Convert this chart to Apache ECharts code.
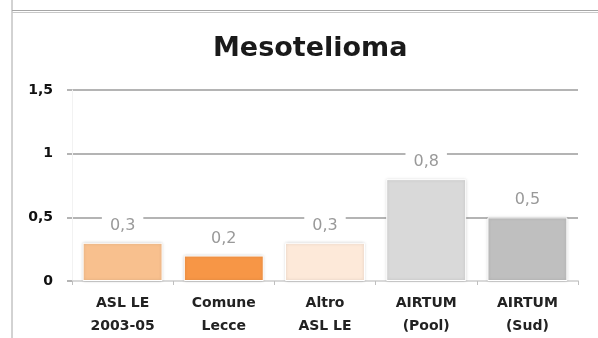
<!DOCTYPE html>
<html>
<head>
<meta charset="utf-8">
<script src="https://cdn.jsdelivr.net/npm/echarts@6/dist/echarts.min.js"></script>
<style>
  html, body { margin: 0; padding: 0; background: #fff; }
  #chart { width: 598px; height: 338px; }
</style>
</head>
<body>
<div id="chart"></div>
<script>
const categories = ['ASL LE\n2003-05', 'Comune\nLecce', 'Altro\nASL LE', 'AIRTUM\n(Pool)', 'AIRTUM\n(Sud)']
const values = [0.3, 0.2, 0.3, 0.8, 0.5]
const barColors = ['#F8C08E', '#F79646', '#FDE9D9', '#D9D9D9', '#BFBFBF']

const toComma = (v) => String(v).replace('.', ',')

const chartInstance = echarts.init(document.getElementById('chart'))

const option = {
  animation: false,
  title: {
    text: 'Mesotelioma',
    left: 208,
    top: 30,
    textStyle: {
      fontFamily: 'DejaVu Sans',
      fontSize: 27,
      fontWeight: 'bold',
      color: '#1a1a1a'
    }
  },
  grid: {
    left: 72,
    right: 20,
    top: 90,
    bottom: 55
  },
  graphic: [
    { type: 'line', shape: { x1: 12, y1: 0, x2: 12, y2: 338 }, style: { stroke: '#a6a6a6', lineWidth: 1 } },
    { type: 'line', shape: { x1: 12, y1: 10.5, x2: 598, y2: 10.5 }, style: { stroke: '#a6a6a6', lineWidth: 1 } },
    { type: 'line', shape: { x1: 12, y1: 12.5, x2: 598, y2: 12.5 }, style: { stroke: '#c8c8c8', lineWidth: 1 } }
  ],
  xAxis: {
    type: 'category',
    data: categories,
    axisLine: { show: true, lineStyle: { color: '#d9d9d9', width: 2 } },
    axisTick: { show: true, length: 4, lineStyle: { color: '#bfbfbf' } },
    axisLabel: {
      margin: 11,
      fontFamily: 'DejaVu Sans',
      fontSize: 14,
      fontWeight: 'bold',
      color: '#222',
      lineHeight: 23
    }
  },
  yAxis: {
    type: 'value',
    min: 0,
    max: 1.5,
    interval: 0.5,
    axisLine: { show: true, lineStyle: { color: '#f2f2f2', width: 1 } },
    axisTick: { show: true, length: 5, lineStyle: { color: '#b4b4b4', width: 2 } },
    splitLine: { lineStyle: { color: '#b4b4b4', width: 2 } },
    axisLabel: {
      margin: 19,
      fontFamily: 'DejaVu Sans',
      fontSize: 14,
      fontWeight: 'bold',
      color: '#111',
      formatter: (v) => toComma(v)
    }
  },
  series: [{
    type: 'bar',
    data: values.map((v, i) => ({ value: v, itemStyle: { color: barColors[i] } })),
    barCategoryGap: '21%',
    itemStyle: {
      borderColor: '#fff',
      borderWidth: 1,
      shadowColor: 'rgba(0,0,0,0.18)',
      shadowBlur: 3
    },
    label: {
      show: true,
      position: 'top',
      distance: 7,
      formatter: (p) => toComma(p.value),
      fontFamily: 'DejaVu Sans',
      fontSize: 16,
      color: '#999',
      backgroundColor: '#fff',
      padding: [2, 8]
    }
  }]
}

chartInstance.setOption(option)
</script>
</body>
</html>
